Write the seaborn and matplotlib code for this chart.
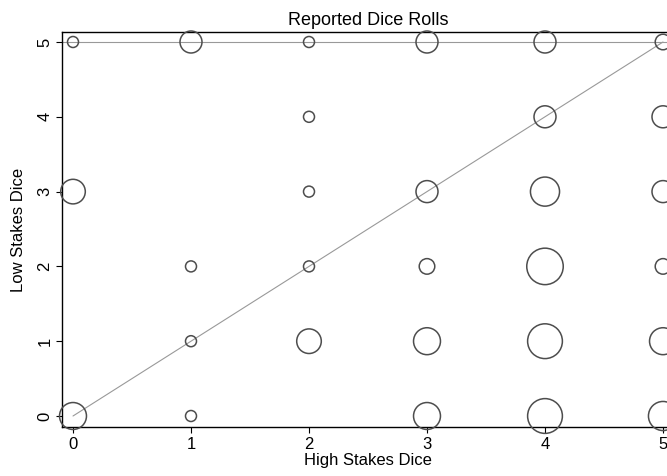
import numpy as np
import pandas as pd
import matplotlib
matplotlib.use('Agg')
import matplotlib.pyplot as plt
import seaborn as sns

# reported rolls: high stakes die, low stakes die, number of people
high = [0, 1, 2, 3, 4, 5,
        2, 4, 5,
        0, 2, 3, 4, 5,
        1, 2, 3, 4, 5,
        1, 2, 3, 4, 5,
        0, 1, 3, 4, 5]
low = [5, 5, 5, 5, 5, 5,
       4, 4, 4,
       3, 3, 3, 3, 3,
       2, 2, 2, 2, 2,
       1, 1, 1, 1, 1,
       0, 0, 0, 0, 0]
count = [1, 4, 1, 4, 4, 2,
         1, 4, 4,
         5, 1, 4, 7, 4,
         1, 1, 2, 11, 2,
         1, 5, 6, 10, 6,
         6, 1, 6, 10, 7]

df = pd.DataFrame({'high': high, 'low': low, 'count': count})

sns.set_style('ticks')
plt.rcParams['font.family'] = ['Liberation Sans', 'DejaVu Sans']
plt.rcParams['text.color'] = 'black'
plt.rcParams['axes.labelcolor'] = 'black'
plt.rcParams['xtick.color'] = 'black'
plt.rcParams['ytick.color'] = 'black'

W, H = 667, 476
fig = plt.figure(figsize=(W / 100, H / 100), dpi=100)
x0, x1, y0, y1 = 62, 674, 32, 427
ax = fig.add_axes([x0 / W, 1 - y1 / H, (x1 - x0) / W, (y1 - y0) / H])

# reference lines
ax.axhline(5, color='#999999', lw=0.8, zorder=1)
ax.plot([0, 5], [0, 5], color='#999999', lw=0.8, zorder=1)

unit = 62.7  # marker area (pt^2) for one observation
sns.scatterplot(data=df, x='high', y='low', size='count',
                sizes=(unit * 1, unit * 11), size_norm=(1, 11),
                facecolor='none', edgecolor='#4d4d4d', linewidth=1.1,
                legend=False, ax=ax, zorder=3, clip_on=False)

ax.set_xlim((x0 - 73) / 118, (x1 - 73) / 118)
ax.set_ylim((416 - y1) / 74.8, 5 + (42 - y0) / 74.8)
ax.set_xticks(range(6))
ax.set_yticks(range(6))
ax.tick_params(axis='both', labelsize=12, length=4, width=0.8, pad=3)
for lab in ax.get_yticklabels():
    lab.set_rotation(90)
    lab.set_va('center')
for s in ax.spines.values():
    s.set_color('black')
    s.set_linewidth(1.0)
ax.spines['right'].set_visible(False)

ax.set_title('Reported Dice Rolls', fontsize=13, pad=5)
ax.set_xlabel('High Stakes Dice', fontsize=12, labelpad=1)
ax.set_ylabel('Low Stakes Dice', fontsize=12, labelpad=8)

fig.savefig('out.png', dpi=100)
